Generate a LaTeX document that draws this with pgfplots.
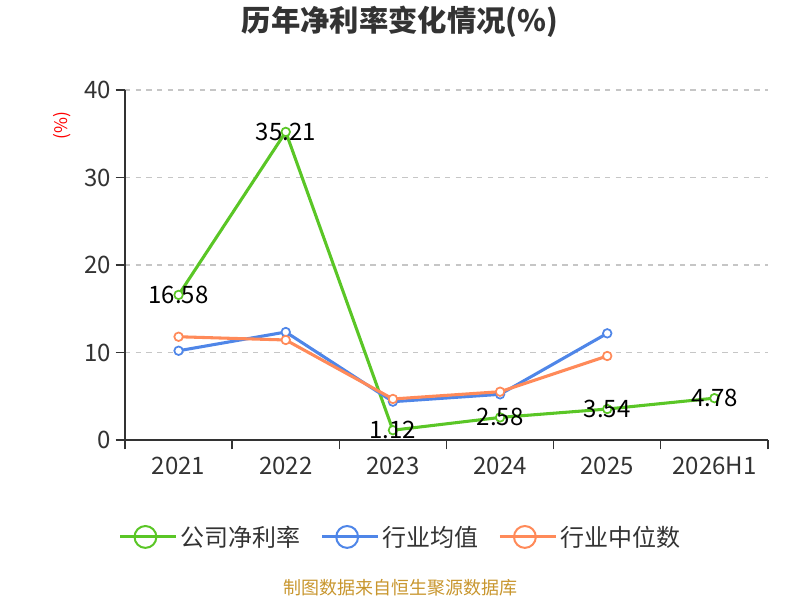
\documentclass[border=0pt]{standalone}
\usepackage{pgfplots}
\pgfplotsset{compat=1.18}
\usepackage{fontspec}
\setmainfont{Noto Sans CJK SC}
\definecolor{cgreen}{HTML}{5AC626}
\definecolor{cblue}{HTML}{4F86E8}
\definecolor{corange}{HTML}{FF8A59}
\definecolor{ctext}{HTML}{333333}
\definecolor{cgold}{HTML}{C8962E}
\begin{document}
\begin{tikzpicture}[x=1pt,y=1pt]
\useasboundingbox (0,0) rectangle (600,450);
\node[font=\fontsize{22}{24}\selectfont\bfseries, text=ctext] at (300,433.5) {历年净利率变化情况(\%)};
\node[font=\fontsize{13}{14}\selectfont, text=red, rotate=90] at (46.5,356) {(\%)};
\node[font=\fontsize{13.5}{15}\selectfont, text=cgold] at (300,9) {制图数据来自恒生聚源数据库};
\begin{axis}[
  at={(93.75pt,120pt)}, anchor=south west,
  scale only axis, width=482.25pt, height=262.5pt,
  xmin=-0.5, xmax=5.5, ymin=0, ymax=40,
  ytick={0,10,20,30,40},
  xtick={0,1,2,3,4,5},
  xticklabels={2021,2022,2023,2024,2025,2026H1},
  minor xtick={-0.5,0.5,1.5,2.5,3.5,4.5,5.5},
  major x tick style={draw=none},
  tick align=outside,
  minor tick length=7pt, major tick length=7pt,
  tick style={ctext, line width=1pt},
  axis x line*=bottom, axis y line*=left,
  axis line style={ctext, line width=1.1pt, -},
  ymajorgrids, grid style={dashed, draw=gray!45, line width=0.8pt, dash pattern=on 4pt off 4pt},
  ticklabel style={font=\fontsize{18}{20}\selectfont, text=ctext},
  xticklabel style={yshift=-2pt},
  /pgf/number format/assume math mode=true,
  every axis plot/.append style={line width=2.3pt},
  mark options={fill=white, line width=1.3pt},
  legend style={at={(0.429,-0.277)}, anchor=center, draw=none, fill=none,
    font=\fontsize{18}{20}\selectfont, text=ctext, legend columns=3,
    /tikz/every even column/.append style={column sep=13pt}},
  legend image code/.code={\draw[line width=1.6pt] (0pt,0pt) -- (37.5pt,0pt); \draw[line width=1.5pt, fill=white] (18.75pt,0pt) circle (8.2pt); \path (0pt,0pt) -- (42pt,0pt);},
]
\addplot[cgreen, mark=*, mark size=3.2pt, nodes near coords, point meta=explicit symbolic,
  every node near coord/.append style={anchor=center, text=black, font=\fontsize{18}{20}\selectfont}]
  coordinates {(0,16.58)[16.58] (1,35.21)[35.21] (2,1.12)[1.12] (3,2.58)[2.58] (4,3.54)[3.54] (5,4.78)[4.78]};
\addlegendentry{公司净利率}
\addplot[cblue, mark=*, mark size=3.2pt] coordinates {(0,10.2) (1,12.34) (2,4.38) (3,5.22) (4,12.19)};
\addlegendentry{行业均值}
\addplot[corange, mark=*, mark size=3.2pt] coordinates {(0,11.8) (1,11.43) (2,4.69) (3,5.52) (4,9.6)};
\addlegendentry{行业中位数}
\end{axis}
\end{tikzpicture}
\end{document}
